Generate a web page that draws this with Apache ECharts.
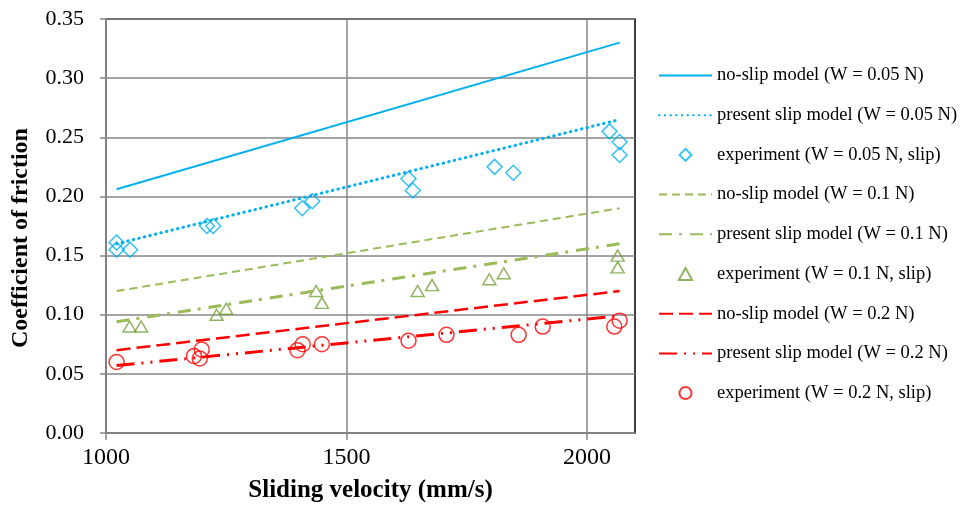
<!DOCTYPE html>
<html><head><meta charset="utf-8">
<script src="https://cdn.jsdelivr.net/npm/echarts@6/dist/echarts.min.js"></script>
<style>html,body{margin:0;padding:0;background:#fff}#c{width:962px;height:508px}</style>
</head><body><div id="c"></div>
<script>
// ---- data ----
const xTicks = [1000, 1500, 2000];
const noSlip005 = [[1022, 0.206], [2068, 0.330]];
const slip005 = [[1022, 0.160], [2068, 0.265]];
const exp005 = [[1022, 0.161], [1022, 0.155], [1050, 0.155], [1210, 0.175], [1223, 0.175], [1408, 0.190], [1429, 0.196], [1629, 0.215], [1638, 0.205], [1808, 0.225], [1847, 0.220], [2047, 0.255], [2068, 0.246], [2068, 0.235]];
const noSlip01 = [[1022, 0.120], [2068, 0.190]];
const slip01 = [[1022, 0.094], [2068, 0.160]];
const exp01 = [[1049, 0.090], [1073, 0.090], [1230, 0.100], [1250, 0.105], [1437, 0.120], [1449, 0.110], [1648, 0.120], [1678, 0.125], [1797, 0.130], [1827, 0.135], [2064, 0.140], [2064, 0.150]];
const noSlip02 = [[1022, 0.070], [2068, 0.120]];
const slip02 = [[1022, 0.057], [2068, 0.099]];
const exp02 = [[1022, 0.060], [1183, 0.065], [1195, 0.063], [1199, 0.0705], [1398, 0.070], [1409, 0.075], [1449, 0.075], [1629, 0.078], [1708, 0.083], [1858, 0.083], [1908, 0.090], [2057, 0.090], [2068, 0.095]];
const names = [
  'no-slip model (W = 0.05 N)', 'present slip model (W = 0.05 N)', 'experiment (W = 0.05 N, slip)',
  'no-slip model (W = 0.1 N)', 'present slip model (W = 0.1 N)', 'experiment (W = 0.1 N, slip)',
  'no-slip model (W = 0.2 N)', 'present slip model (W = 0.2 N)', 'experiment (W = 0.2 N, slip)'
];
// legend icon per entry (null = line icon)
const legendIcons = [null, null, 'path://M5,0L10,5L5,10L0,5Z', null, null, 'path://M5,0L10,9L0,9Z', null, null, 'circle'];

const CY = '#00B0F0', GL = '#9BBB59', GM = '#77A03C', RD = '#FF0000';
const FONT = 'Liberation Serif';
const grayAxis = '#868686';

function line(name, data, color, width, type, cap) {
  return { name, type: 'line', data, symbol: 'none', silent: true,
    lineStyle: { color, width, type, cap: cap || 'butt' }, itemStyle: { color } };
}
function scat(name, data, color, symbol, size) {
  return { name, type: 'scatter', data, symbol, symbolSize: size, silent: true,
    itemStyle: { color: 'rgba(255,255,255,0)', borderColor: color, borderWidth: 1.5 } };
}

const chart = echarts.init(document.getElementById('c'), null, { renderer: 'canvas' });
chart.setOption({
  animation: false,
  backgroundColor: '#fff',
  grid: { left: 106, right: 327, top: 19, bottom: 75, show: true, borderColor: '#000', borderWidth: 1.5 },
  legend: {
    orient: 'vertical', left: 653, top: 61, itemWidth: 53, itemHeight: 12, itemGap: 20.7,
    symbolKeepAspect: true,
    textStyle: { fontFamily: FONT, fontSize: 18.5, color: '#000' },
    data: names.map((n, i) => legendIcons[i] ? { name: n, icon: legendIcons[i] } : { name: n, itemStyle: { opacity: 0 } })
  },
  xAxis: {
    type: 'value', min: 1000, max: 2100, interval: 500,
    name: 'Sliding velocity (mm/s)', nameLocation: 'middle', nameGap: 45,
    nameTextStyle: { fontFamily: FONT, fontSize: 25, fontWeight: 'bold', color: '#000' },
    axisLine: { show: true, lineStyle: { color: grayAxis, width: 1.5 } },
    axisTick: { show: true, length: 7, lineStyle: { color: grayAxis, width: 1.5 }, customValues: xTicks },
    axisLabel: { fontFamily: FONT, fontSize: 24, color: '#000', margin: 13, customValues: xTicks, formatter: v => String(v) },
    splitLine: { show: true, lineStyle: { color: grayAxis, width: 1.5 } }
  },
  yAxis: {
    type: 'value', min: 0, max: 0.35, interval: 0.05,
    name: 'Coefficient of friction', nameLocation: 'middle', nameGap: 73,
    nameTextStyle: { fontFamily: FONT, fontSize: 24, fontWeight: 'bold', color: '#000', padding: [0, 24, 0, 0] },
    axisLine: { show: true, lineStyle: { color: grayAxis, width: 1.5 } },
    axisTick: { show: true, length: 6, lineStyle: { color: grayAxis, width: 1.5 } },
    axisLabel: { fontFamily: FONT, fontSize: 22, color: '#000', margin: 22, formatter: v => v.toFixed(2) },
    splitLine: { show: true, lineStyle: { color: grayAxis, width: 1.5 } }
  },
  series: [
    line(names[0], noSlip005, CY, 2, 'solid'),
    line(names[1], slip005, CY, 3, [0.5, 5.2], 'round'),
    scat(names[2], exp005, CY, 'diamond', 15),
    line(names[3], noSlip01, GL, 2, [8, 5]),
    line(names[4], slip01, GL, 3, [13, 7, 3, 8]),
    scat(names[5], exp01, GM, 'triangle', [13, 11]),
    line(names[6], noSlip02, RD, 2.5, [14, 6]),
    line(names[7], slip02, RD, 3, [18, 7, 2, 7, 2, 7]),
    scat(names[8], exp02, RD, 'circle', 15)
  ]
});
</script></body></html>
